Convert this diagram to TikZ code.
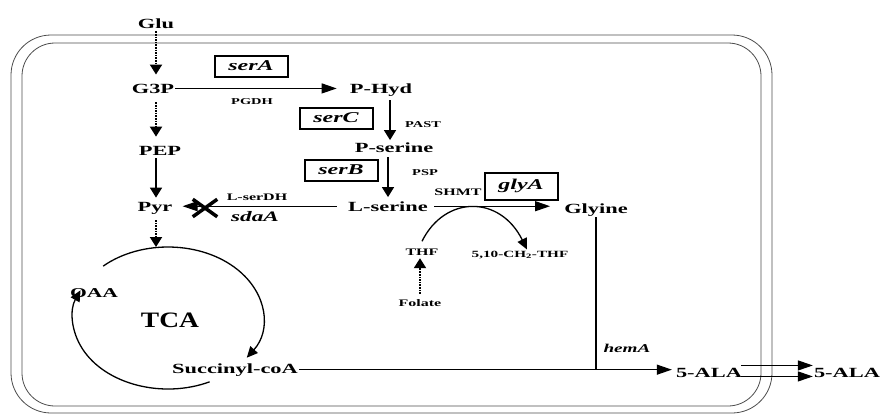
\documentclass[tikz,border=0pt]{standalone}
\usepackage{fontspec}
\setmainfont[FakeStretch=1.6]{Liberation Serif}
\newfontfamily\tcafont[FakeStretch=1.25]{Liberation Serif}
\usetikzlibrary{arrows.meta, shapes.misc}

\tikzset{
  met/.style={font=\bfseries\fontsize{14}{16}\selectfont, inner sep=1pt, anchor=base},
  enz/.style={font=\bfseries\fontsize{9}{10}\selectfont, inner sep=1pt, anchor=base},
  small/.style={font=\bfseries\fontsize{10}{11}\selectfont, inner sep=1pt, anchor=base},
  gene/.style={draw, line width=2pt, font=\bfseries\itshape\fontsize{15}{17}\selectfont,
               minimum width=73pt, minimum height=21pt, inner sep=1pt},
  harr/.style={-{Triangle[length=15pt,width=10pt]}, line width=1.2pt},
  varr/.style={-{Triangle[length=10pt,width=12pt]}, line width=1.6pt},
  carr/.style={-{Triangle[length=11pt,width=10pt]}, line width=1.3pt},
  dotarr/.style={varr, densely dotted, line width=2pt},
}

\begin{document}
\begin{tikzpicture}[x=1pt, y=-1pt]
  \useasboundingbox (0,0) rectangle (881,416);

  % membrane
  \draw[black!70, line width=0.8pt, rounded corners=40pt] (11,35) rectangle (772,413);
  \draw[black!70, line width=0.8pt, rounded corners=33pt] (22,43) rectangle (761,406);

  % metabolites
  \node[met] (Glu) at (156,28) {Glu};
  \node[met] (G3P) at (153,93) {G3P};
  \node[met] (PHyd) at (381,93) {P-Hyd};
  \node[met] (PEP) at (160,155) {PEP};
  \node[met] (Pser) at (394,152) {P-serine};
  \node[met] (Pyr) at (155,211) {Pyr};
  \node[met] (Lser) at (388,211) {L-serine};
  \node[met] (Gly) at (596,213) {Glyine};
  \node[met] (Succ) at (235,373) {Succinyl-coA};
  \node[met] (ALAin) at (709,377) {5-ALA};
  \node[met] (ALAout) at (847,377) {5-ALA};
  \node[met, font=\bfseries\fontsize{13.5}{15}\selectfont] (OAA) at (94,297) {OAA};
  \node[met, font=\tcafont\bfseries\fontsize{22}{24}\selectfont] (TCA) at (170,327) {TCA};

  % enzymes and cofactors
  \node[enz] (PGDH) at (252,104) {PGDH};
  \node[enz] (PAST) at (423,127) {PAST};
  \node[enz] (PSP) at (425,175) {PSP};
  \node[small] (SHMT) at (458,195) {SHMT};
  \node[small] (LserDH) at (257,200) {L-serDH};
  \node[small] (THF) at (422,255) {THF};
  \node[small, font=\bfseries\fontsize{9.5}{11}\selectfont] (CH2) at (520,257) {5,10-CH\textsubscript{2}-THF};
  \node[small] (Folate) at (420,306) {Folate};
  \node[met, font=\bfseries\itshape\fontsize{14.5}{16}\selectfont] (sdaA) at (255,221) {sdaA};
  \node[met, font=\bfseries\itshape\fontsize{12}{14}\selectfont] (hemA) at (627,352) {hemA};

  % genes
  \node[gene] (serA) at (251,66) {serA};
  \node[gene] (serC) at (336,118) {serC};
  \node[gene] (serB) at (341,170) {serB};
  \node[gene, minimum height=27pt] (glyA) at (521,186) {glyA};

  % glycolysis
  \draw[dotarr, shorten <=2pt, shorten >=8pt] (Glu.south) -- (Glu.south |- G3P.north);
  \draw[dotarr, shorten <=8pt, shorten >=8pt] (G3P.south -| Glu) -- (PEP.north -| Glu);
  \draw[varr, shorten <=2pt, shorten >=3pt] (PEP.south -| Glu) -- (Pyr.north -| Glu);
  \coordinate (tcatop) at (156,247);
  \draw[dotarr, shorten <=5pt] (Pyr.south -| Glu) -- (tcatop);

  % serine pathway
  \draw[harr, shorten >=12pt] (G3P.east) -- (G3P.east -| PHyd.west);
  \draw[varr, shorten <=3pt, shorten >=1pt] ([xshift=9pt]PHyd.south) -- ([xshift=9pt]PHyd.south |- Pser.north);
  \draw[varr, shorten <=4pt, shorten >=3pt] (Pser.south -| Lser) -- (Lser.north);
  \draw[harr, shorten <=10pt, shorten >=9pt] (Lser.west) -- (Lser.west -| Pyr.east);
  \node[cross out, draw, line width=3.5pt, minimum width=21pt, minimum height=14pt, inner sep=0pt] (block) at (205,208) {};
  \draw[harr, shorten <=5pt, shorten >=13pt] (Lser.east) -- (Lser.east -| Gly.west);
  \draw[carr] ([yshift=6pt]THF.north) .. controls (445,195) and (500,195) .. ([xshift=7pt]CH2.north);
  \draw[dotarr, shorten <=4pt, shorten >=2pt] (Folate.north) -- (Folate.north |- THF.south);

  % 5-ALA
  \coordinate (join) at (Succ.east -| Gly.south);
  \draw[line width=1.2pt] (Gly.south -| join) -- (join);
  \draw[harr, shorten >=3pt] (Succ.east) -- (Succ.east -| ALAin.west);
  \foreach \dy in {7pt,-4pt}
    \draw[harr, shorten <=-2pt] ([yshift=\dy]ALAin.east) -- ([yshift=\dy]ALAin.east -| ALAout.west);

  % TCA cycle
  \coordinate (cyc) at (168,318);
  \draw[carr] (cyc) ++(64:95 and 71) arc[start angle=64, end angle=203, x radius=95, y radius=71];
  \draw[carr] (cyc) ++(227:95 and 71) arc[start angle=227, end angle=394, x radius=95, y radius=71];
\end{tikzpicture}
\end{document}
